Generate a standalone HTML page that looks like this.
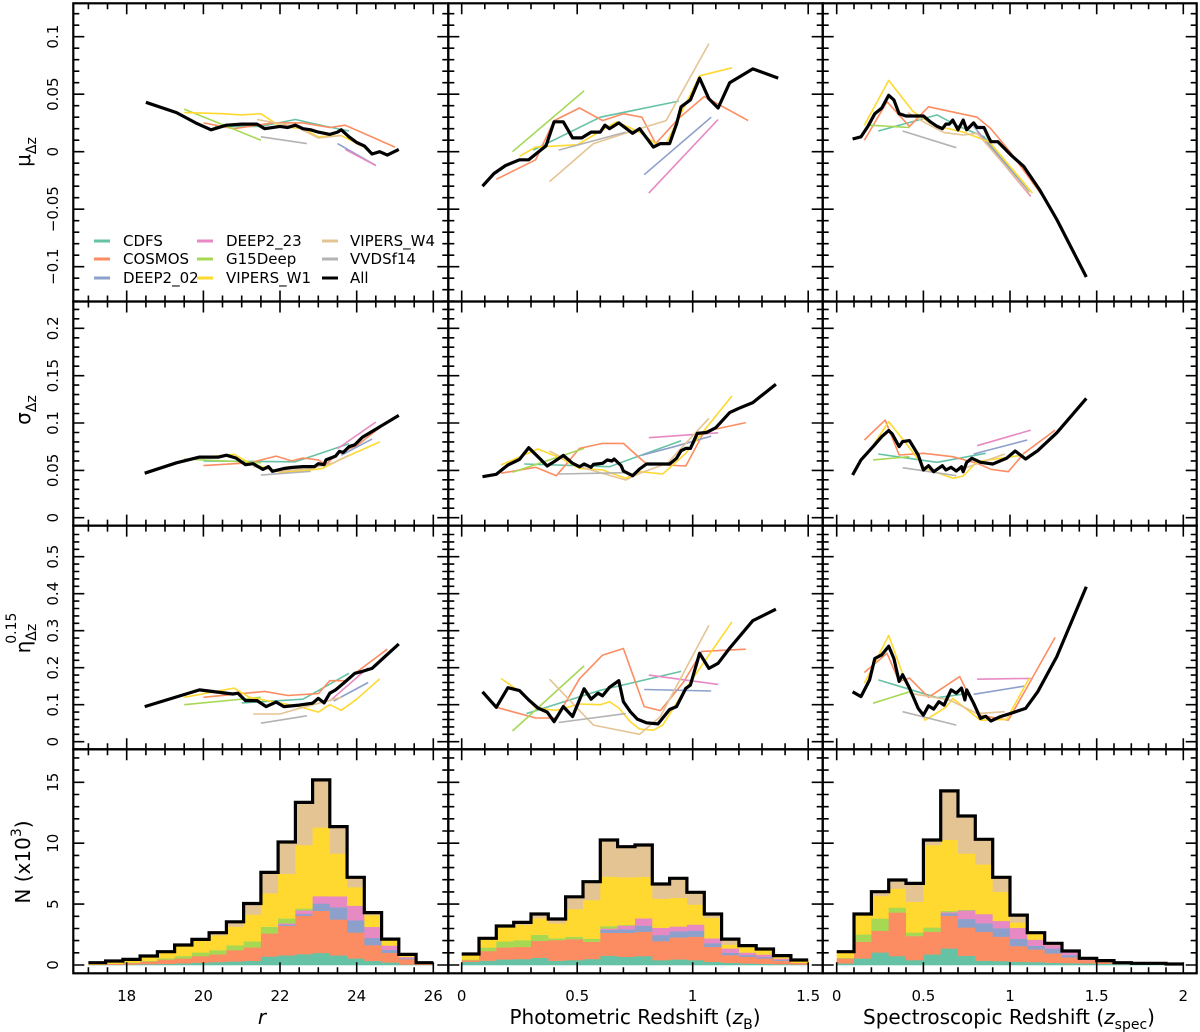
<!DOCTYPE html>
<html><head><meta charset="utf-8"><style>
html,body{margin:0;padding:0;background:#fff;}
svg{display:block;font-family:"DejaVu Sans","Liberation Sans",sans-serif;}
</style></head><body>
<svg id="chart" width="1200" height="1032" viewBox="0 0 1200 1032" xmlns="http://www.w3.org/2000/svg">
<rect x="0" y="0" width="1200" height="1032" fill="#fff"/>
<g id="marks"></g>
<g id="frames"></g>
<g font-size="15">
 <line x1="94" y1="241" x2="110" y2="241" stroke="#66c2a5" stroke-width="3"/><text x="123" y="246">CDFS</text>
 <line x1="94" y1="259" x2="110" y2="259" stroke="#fc8d62" stroke-width="3"/><text x="123" y="264">COSMOS</text>
 <line x1="94" y1="278" x2="110" y2="278" stroke="#8da0cb" stroke-width="3"/><text x="123" y="283">DEEP2_02</text>
 <line x1="197" y1="241" x2="213" y2="241" stroke="#e78ac3" stroke-width="3"/><text x="226" y="246">DEEP2_23</text>
 <line x1="197" y1="259" x2="213" y2="259" stroke="#a6d854" stroke-width="3"/><text x="226" y="264">G15Deep</text>
 <line x1="197" y1="278" x2="213" y2="278" stroke="#ffd92f" stroke-width="3"/><text x="226" y="283">VIPERS_W1</text>
 <line x1="322" y1="241" x2="338" y2="241" stroke="#e5c494" stroke-width="3"/><text x="350" y="246">VIPERS_W4</text>
 <line x1="322" y1="259" x2="338" y2="259" stroke="#b3b3b3" stroke-width="3"/><text x="350" y="264">VVDSf14</text>
 <line x1="322" y1="278" x2="338" y2="278" stroke="#000" stroke-width="3"/><text x="350" y="283">All</text>
</g>
<g font-size="20">
 <text transform="translate(30,152) rotate(-90)" text-anchor="middle">μ<tspan font-size="14" dy="6">Δz</tspan></text>
 <text transform="translate(30,410) rotate(-90)" text-anchor="middle">σ<tspan font-size="14" dy="6">Δz</tspan></text>
 <text transform="translate(30,633) rotate(-90)" text-anchor="middle">η<tspan font-size="14" dy="6">Δz</tspan><tspan font-size="14" dx="-20" dy="-20">0.15</tspan></text>
 <text transform="translate(30,862) rotate(-90)" text-anchor="middle">N (x10<tspan font-size="14" dy="-9">3</tspan><tspan dy="9">)</tspan></text>
 <text x="262" y="1024" font-style="italic" text-anchor="middle">r</text>
 <text x="635" y="1024" text-anchor="middle">Photometric Redshift (<tspan font-style="italic">z</tspan><tspan font-size="14" dy="5">B</tspan><tspan dy="-5">)</tspan></text>
 <text x="1009" y="1024" text-anchor="middle">Spectroscopic Redshift (<tspan font-style="italic">z</tspan><tspan font-size="14" dy="5">spec</tspan><tspan dy="-5">)</tspan></text>
</g>
</svg>
<script>
const fieldNames = ['CDFS','COSMOS','DEEP2_02','DEEP2_23','G15Deep','VIPERS_W1','VIPERS_W4','VVDSf14','All'];
const fieldColors = ['#66c2a5','#fc8d62','#8da0cb','#e78ac3','#a6d854','#ffd92f','#e5c494','#b3b3b3','#000000'];

// ---- row 1: mean bias ----
const muR = {
 CDFS:[[20.3,0.022],[21.5,0.022],[22.4,0.028],[23.2,0.022],[23.8,0.018]],
 COSMOS:[[20.0,0.025],[20.8,0.020],[21.8,0.025],[22.6,0.025],[23.3,0.021],[23.7,0.023],[25.0,0.004]],
 DEEP2_02:[[23.5,0.007],[24.5,-0.012]],
 DEEP2_23:[[23.7,0.002],[24.5,-0.012]],
 G15Deep:[[19.5,0.037],[21.5,0.010]],
 VIPERS_W1:[[19.5,0.034],[20.5,0.033],[21.0,0.032],[21.5,0.033],[22.0,0.022],[22.6,0.020],[23.0,0.013],[23.6,0.014],[24.3,0.002]],
 VIPERS_W4:[[21.4,0.028],[22.4,0.022],[23.0,0.012],[23.6,0.014]],
 VVDSf14:[[21.5,0.013],[22.7,0.007]],
 All:[[18.5,0.043],[19.3,0.034],[19.8,0.025],[20.2,0.019],[20.6,0.023],[21.0,0.024],[21.4,0.024],[21.6,0.020],[22.0,0.022],[22.2,0.021],[22.4,0.023],[22.6,0.020],[22.8,0.019],[23.0,0.017],[23.3,0.015],[23.5,0.017],[23.6,0.019],[23.8,0.013],[24.0,0.008],[24.2,0.005],[24.4,-0.002],[24.6,0.000],[24.8,-0.003],[25.1,0.002]]
};
const muZB = {
 CDFS:[[0.31,0.0014],[0.60,0.030],[0.94,0.044]],
 COSMOS:[[0.15,-0.024],[0.32,-0.007],[0.40,0.027],[0.51,0.038],[0.61,0.027],[0.70,0.033],[0.78,0.030],[0.84,0.007],[0.94,0.029],[1.05,0.048],[1.24,0.027]],
 DEEP2_02:[[0.79,-0.020],[1.08,0.030]],
 DEEP2_23:[[0.81,-0.036],[1.11,0.028]],
 G15Deep:[[0.22,0.0],[0.53,0.053]],
 VIPERS_W1:[[0.25,-0.004],[0.32,0.004],[0.50,0.006],[0.67,0.026],[0.77,0.017],[0.84,0.007],[0.885,0.007],[1.03,0.066],[1.17,0.073]],
 VIPERS_W4:[[0.38,-0.026],[0.57,0.007],[0.755,0.019],[0.885,0.027],[1.07,0.094]],
 VVDSf14:[[0.42,0.0014],[0.71,0.017]],
 All:[[0.09,-0.030],[0.14,-0.019],[0.19,-0.012],[0.25,-0.007],[0.29,-0.007],[0.365,0.005],[0.40,0.026],[0.44,0.026],[0.48,0.012],[0.52,0.012],[0.56,0.017],[0.60,0.017],[0.62,0.023],[0.64,0.020],[0.68,0.025],[0.74,0.016],[0.77,0.020],[0.83,0.004],[0.86,0.007],[0.90,0.007],[0.93,0.024],[0.95,0.039],[0.99,0.045],[1.03,0.064],[1.07,0.046],[1.11,0.038],[1.16,0.060],[1.26,0.072],[1.37,0.064]]
};
const muZS = {
 CDFS:[[0.24,0.018],[0.58,0.032],[0.69,0.023],[0.85,0.013],[1.11,-0.035]],
 COSMOS:[[0.16,0.010],[0.29,0.0435],[0.42,0.022],[0.53,0.039],[0.81,0.030],[0.89,0.020],[1.00,0.0],[1.19,-0.039],[1.27,-0.059]],
 DEEP2_02:[[0.79,0.022],[1.11,-0.035]],
 DEEP2_23:[[0.81,0.017],[1.12,-0.039]],
 G15Deep:[[0.19,0.023],[0.42,0.021]],
 VIPERS_W1:[[0.16,0.023],[0.30,0.062],[0.44,0.035],[0.56,0.023],[0.73,0.017],[0.88,0.0087],[1.13,-0.036]],
 VIPERS_W4:[[0.41,0.034],[0.50,0.026],[0.62,0.0166],[0.73,0.0145],[0.81,0.016],[1.11,-0.036]],
 VVDSf14:[[0.38,0.018],[0.69,0.0035]],
 All:[[0.092,0.011],[0.14,0.013],[0.18,0.022],[0.22,0.033],[0.26,0.038],[0.30,0.049],[0.33,0.045],[0.36,0.033],[0.40,0.031],[0.50,0.031],[0.54,0.026],[0.58,0.022],[0.61,0.020],[0.63,0.024],[0.65,0.024],[0.67,0.0275],[0.70,0.019],[0.73,0.0275],[0.75,0.019],[0.79,0.025],[0.81,0.021],[0.85,0.021],[0.875,0.013],[0.89,0.0087],[0.93,0.0087],[1.01,-0.0035],[1.08,-0.013],[1.17,-0.033],[1.27,-0.059],[1.44,-0.109]]
};
// ---- row 2: scatter ----
const sigR = {
 CDFS:[[20.0,0.060],[22.4,0.059],[23.8,0.078]],
 COSMOS:[[20.0,0.055],[21.2,0.058],[21.9,0.065],[22.3,0.060],[22.6,0.063],[23.0,0.061],[23.2,0.056],[23.5,0.068],[24.0,0.076],[24.6,0.095]],
 DEEP2_02:[[23.6,0.066],[24.4,0.083]],
 DEEP2_23:[[23.5,0.073],[24.5,0.101]],
 G15Deep:[[19.5,0.062],[21.5,0.058]],
 VIPERS_W1:[[19.8,0.063],[20.8,0.067],[21.2,0.058],[22.0,0.048],[22.7,0.050],[23.1,0.052],[23.6,0.062],[24.6,0.080]],
 VIPERS_W4:[[21.3,0.054],[22.0,0.049],[22.8,0.052],[23.4,0.058],[23.8,0.066]],
 VVDSf14:[[21.5,0.045],[22.8,0.049]],
 All:[[18.47,0.047],[19.3,0.058],[19.9,0.064],[20.4,0.064],[20.6,0.066],[20.85,0.063],[21.1,0.056],[21.3,0.057],[21.55,0.051],[21.7,0.054],[21.8,0.049],[22.1,0.052],[22.3,0.053],[22.6,0.054],[22.9,0.054],[23.0,0.057],[23.15,0.056],[23.2,0.061],[23.45,0.065],[23.55,0.070],[23.65,0.069],[23.8,0.075],[23.95,0.077],[24.15,0.085],[25.1,0.108]]
};
const sigZB = {
 CDFS:[[0.27,0.0567],[0.64,0.0539],[0.95,0.0813]],
 COSMOS:[[0.17,0.047],[0.32,0.0532],[0.41,0.0444],[0.51,0.0732],[0.61,0.0785],[0.70,0.0785],[0.80,0.0567],[0.97,0.0546],[1.05,0.091],[1.23,0.1004]],
 DEEP2_02:[[0.78,0.066],[0.92,0.075],[1.08,0.0862]],
 DEEP2_23:[[0.81,0.0845],[1.11,0.0897]],
 G15Deep:[[0.22,0.0479],[0.53,0.0732]],
 VIPERS_W1:[[0.17,0.0556],[0.33,0.0725],[0.43,0.0627],[0.51,0.0521],[0.61,0.0504],[0.71,0.0416],[0.77,0.0486],[0.87,0.0461],[0.97,0.068],[1.17,0.1286]],
 VIPERS_W4:[[0.38,0.0704],[0.51,0.0539],[0.71,0.0398],[0.77,0.0468],[0.89,0.0574],[1.07,0.105]],
 VVDSf14:[[0.42,0.0461],[0.71,0.0475]],
 All:[[0.09,0.0433],[0.15,0.0458],[0.20,0.0556],[0.25,0.0616],[0.29,0.0739],[0.33,0.0644],[0.37,0.0546],[0.40,0.0591],[0.44,0.0658],[0.48,0.0574],[0.51,0.0539],[0.53,0.0567],[0.56,0.0532],[0.57,0.0563],[0.61,0.0574],[0.63,0.0609],[0.65,0.0599],[0.66,0.062],[0.69,0.055],[0.70,0.0493],[0.74,0.0444],[0.77,0.0514],[0.80,0.0567],[0.90,0.0567],[0.93,0.0627],[0.95,0.0707],[0.97,0.0732],[0.99,0.0732],[1.02,0.089],[1.06,0.090],[1.10,0.095],[1.16,0.111],[1.20,0.1155],[1.26,0.1215],[1.36,0.141]]
};
const sigZS = {
 CDFS:[[0.24,0.0673],[0.58,0.0585],[0.86,0.068]],
 COSMOS:[[0.16,0.082],[0.28,0.1031],[0.36,0.0662],[0.50,0.068],[0.67,0.0644],[0.81,0.0574],[0.89,0.0511],[0.99,0.0486],[1.08,0.068],[1.26,0.0925]],
 DEEP2_02:[[0.79,0.0673],[1.10,0.0821]],
 DEEP2_23:[[0.81,0.0760],[1.12,0.0925]],
 G15Deep:[[0.21,0.061],[0.42,0.0644]],
 VIPERS_W1:[[0.18,0.068],[0.30,0.1014],[0.40,0.0785],[0.51,0.0521],[0.67,0.0416],[0.73,0.044],[0.81,0.0592],[1.08,0.0662]],
 VIPERS_W4:[[0.68,0.0486],[0.97,0.0673]],
 VVDSf14:[[0.38,0.0528],[0.69,0.0444]],
 All:[[0.092,0.0451],[0.14,0.061],[0.21,0.0751],[0.26,0.0856],[0.30,0.092],[0.32,0.0885],[0.36,0.0751],[0.38,0.0804],[0.42,0.0814],[0.47,0.0662],[0.50,0.0504],[0.53,0.0549],[0.56,0.0486],[0.61,0.0549],[0.63,0.0504],[0.66,0.0532],[0.69,0.0493],[0.72,0.0539],[0.73,0.0486],[0.75,0.0585],[0.78,0.0627],[0.83,0.0585],[0.90,0.0567],[0.98,0.0627],[1.03,0.0704],[1.09,0.062],[1.16,0.0707],[1.27,0.0897],[1.44,0.126]]
};
// ---- row 3: outlier fraction ----
const etaR = {
 CDFS:[[21.0,0.105],[22.6,0.115],[23.8,0.185]],
 COSMOS:[[20.0,0.120],[21.6,0.136],[22.2,0.125],[23.0,0.130],[23.3,0.165],[23.7,0.165],[24.8,0.250]],
 DEEP2_02:[[23.4,0.110],[24.3,0.160]],
 DEEP2_23:[[23.3,0.110],[24.3,0.200]],
 G15Deep:[[19.5,0.100],[21.5,0.120]],
 VIPERS_W1:[[19.5,0.120],[20.8,0.145],[21.2,0.120],[22.5,0.095],[23.0,0.080],[23.3,0.100],[23.6,0.085],[24.0,0.115],[24.6,0.170]],
 VIPERS_W4:[[21.3,0.075],[22.0,0.075],[22.5,0.090],[23.6,0.120]],
 VVDSf14:[[21.5,0.050],[22.7,0.070]],
 All:[[18.47,0.095],[19.9,0.140],[20.77,0.129],[20.9,0.131],[21.1,0.111],[21.4,0.111],[21.64,0.095],[21.9,0.107],[22.1,0.095],[22.5,0.099],[22.85,0.104],[23.0,0.117],[23.15,0.105],[23.3,0.131],[23.45,0.140],[23.7,0.162],[23.95,0.185],[24.15,0.190],[24.4,0.198],[25.1,0.264]]
};
const etaZB = {
 CDFS:[[0.28,0.076],[0.60,0.139],[0.95,0.190]],
 COSMOS:[[0.15,0.093],[0.32,0.064],[0.41,0.064],[0.51,0.170],[0.61,0.234],[0.70,0.252],[0.79,0.095],[0.86,0.084],[0.96,0.161],[1.04,0.244],[1.23,0.250]],
 DEEP2_02:[[0.79,0.141],[1.08,0.137]],
 DEEP2_23:[[0.81,0.180],[1.11,0.155]],
 G15Deep:[[0.22,0.029],[0.53,0.205]],
 VIPERS_W1:[[0.17,0.171],[0.27,0.127],[0.32,0.091],[0.41,0.085],[0.51,0.102],[0.60,0.100],[0.64,0.108],[0.68,0.091],[0.73,0.054],[0.77,0.034],[0.83,0.031],[0.87,0.045],[0.97,0.144],[1.17,0.324]],
 VIPERS_W4:[[0.38,0.169],[0.57,0.045],[0.77,0.020],[0.86,0.068],[1.07,0.315]],
 VVDSf14:[[0.42,0.052],[0.71,0.076]],
 All:[[0.09,0.135],[0.15,0.093],[0.20,0.146],[0.25,0.138],[0.29,0.113],[0.33,0.091],[0.37,0.080],[0.40,0.054],[0.44,0.095],[0.48,0.068],[0.53,0.143],[0.56,0.115],[0.59,0.131],[0.61,0.124],[0.64,0.147],[0.68,0.165],[0.70,0.108],[0.73,0.081],[0.76,0.061],[0.80,0.051],[0.85,0.048],[0.90,0.087],[0.93,0.095],[0.97,0.144],[0.99,0.153],[1.03,0.239],[1.07,0.198],[1.11,0.212],[1.16,0.253],[1.26,0.327],[1.36,0.358]]
};
const etaZS = {
 CDFS:[[0.24,0.167],[0.58,0.119],[0.77,0.131]],
 COSMOS:[[0.16,0.187],[0.29,0.239],[0.36,0.163],[0.42,0.172],[0.53,0.120],[0.71,0.176],[0.82,0.072],[0.99,0.058],[1.10,0.148],[1.26,0.282]],
 DEEP2_02:[[0.79,0.128],[1.08,0.150]],
 DEEP2_23:[[0.81,0.169],[1.12,0.171]],
 G15Deep:[[0.21,0.104],[0.42,0.135]],
 VIPERS_W1:[[0.16,0.158],[0.30,0.287],[0.40,0.158],[0.51,0.058],[0.63,0.093],[0.67,0.117],[0.83,0.058],[0.98,0.060],[1.11,0.171]],
 VIPERS_W4:[[0.42,0.131],[0.65,0.113],[0.81,0.076],[0.97,0.081]],
 VVDSf14:[[0.38,0.081],[0.69,0.045]],
 All:[[0.092,0.135],[0.14,0.122],[0.19,0.167],[0.22,0.225],[0.26,0.235],[0.30,0.258],[0.33,0.225],[0.36,0.163],[0.38,0.181],[0.42,0.145],[0.47,0.090],[0.50,0.072],[0.53,0.097],[0.56,0.088],[0.59,0.108],[0.62,0.099],[0.63,0.110],[0.66,0.140],[0.69,0.131],[0.72,0.145],[0.74,0.113],[0.75,0.140],[0.79,0.104],[0.83,0.063],[0.86,0.069],[0.89,0.056],[0.94,0.067],[1.00,0.076],[1.09,0.090],[1.16,0.135],[1.27,0.230],[1.44,0.419]]
};
// ---- row 4: stacked histograms (N in thousands), order bottom->top ----
const histStackOrder = ['CDFS','COSMOS','DEEP2_02','DEEP2_23','G15Deep','VIPERS_W1','VIPERS_W4'];
const histRStart = 17, histRWidth = 0.45;
const histR = {
 CDFS:[0.02,0.03,0.05,0.08,0.1,0.15,0.2,0.25,0.3,0.35,0.7,0.8,0.9,1.0,0.8,0.55,0.35,0.22,0.05,0.02],
 COSMOS:[0.03,0.08,0.14,0.22,0.36,0.4,0.54,0.63,0.93,1.1,1.9,2.43,3.15,3.46,2.95,2.13,1.29,0.79,0.44,0.12],
 DEEP2_02:[0,0,0,0,0,0,0,0,0,0,0,0.1,0.15,0.6,1.0,1.0,0.6,0.25,0.08,0],
 DEEP2_23:[0,0,0,0,0,0,0,0,0,0,0,0.1,0.3,0.6,0.9,1.2,0.9,0.35,0.1,0],
 G15Deep:[0,0,0.02,0.05,0.1,0.2,0.3,0.35,0.4,0.5,0.55,0.4,0.15,0,0,0,0,0,0,0],
 VIPERS_W1:[0.14,0.22,0.25,0.39,0.53,0.89,1.01,1.22,1.52,2.2,2.75,3.67,5.2,5.64,3.51,1.52,0.96,0.47,0.2,0.05],
 VIPERS_W4:[0,0,0,0,0,0,0.05,0.2,0.4,0.9,1.7,2.6,3.5,3.9,2.2,0.8,0.2,0.05,0,0]
};
const histZBStart = 0, histZBWidth = 0.075;
const histZB = {
 CDFS:[0.27,0.36,0.47,0.5,0.6,0.36,0.41,0.5,0.77,0.68,0.74,0.41,0.47,0.41,0.27,0.19,0.14,0.11,0.08,0.05],
 COSMOS:[0.14,0.79,0.98,1.0,1.39,1.69,1.72,1.42,1.88,1.97,2.0,1.56,1.8,1.92,1.23,0.63,0.54,0.44,0.28,0.14],
 DEEP2_02:[0,0,0,0,0,0,0,0,0.25,0.3,0.5,0.5,0.5,0.5,0.3,0.2,0.15,0.12,0.08,0],
 DEEP2_23:[0,0,0,0,0,0,0,0,0.1,0.3,0.6,0.6,0.4,0.5,0.4,0.35,0.2,0.2,0.1,0],
 G15Deep:[0.05,0.3,0.5,0.55,0.5,0.15,0.2,0.25,0.2,0.05,0,0,0,0,0,0,0,0,0,0],
 VIPERS_W1:[0.44,0.74,1.15,1.25,1.35,1.23,2.27,3.17,4.06,3.91,3.41,2.38,2.35,1.64,1.69,0.31,0.46,0.39,0.23,0.22],
 VIPERS_W4:[0,0,0.1,0.2,0.35,0.35,1.0,1.5,3.0,2.5,2.6,1.2,1.6,1.0,0.3,0.45,0.1,0.05,0,0]
};
const histZSStart = 0, histZSWidth = 0.1;
const histZS = {
 CDFS:[0.14,0.55,1.04,0.74,0.41,0.88,1.37,0.77,0.36,0.33,0.27,0.25,0.19,0.16,0.14,0.11,0.08,0.08,0.08,0.05],
 COSMOS:[0.41,1.37,1.78,3.58,1.97,1.86,2.68,2.32,2.38,2.0,1.29,1.04,0.77,0.47,0.27,0.16,0.11,0.06,0.06,0.03],
 DEEP2_02:[0,0,0,0,0,0,0.2,0.7,0.7,0.7,0.6,0.3,0.4,0.2,0,0,0,0,0,0],
 DEEP2_23:[0,0,0,0,0,0,0.1,0.7,0.75,0.6,0.9,0.5,0.3,0.3,0.1,0,0,0,0,0],
 G15Deep:[0.05,0.6,1.0,0.4,0.3,0.35,0.1,0.05,0,0,0,0,0,0,0,0,0,0,0,0],
 VIPERS_W1:[0.49,1.67,1.85,1.56,2.52,6.77,5.84,4.62,4.08,2.39,0.44,0.51,0.12,0.02,0.04,0.09,0,0,0,0],
 VIPERS_W4:[0,0,0.35,0.7,1.5,0.4,4.0,3.07,2.05,1.18,0.6,0.05,0,0,0,0,0,0,0,0]
};

// ---- axis tick labels ----
const xTickLabels = [['18','20','22','24','26'],['0','0.5','1','1.5'],['0','0.5','1','1.5','2']];
const yTickLabels = [['−0.1','−0.05','0','0.05','0.1'],['0','0.05','0.1','0.15','0.2'],['0','0.1','0.2','0.3','0.4','0.5'],['0','5','10','15']];

// ---- geometry (layout, not data) ----
const colPix = [[73.3,448.3],[448.3,822.7],[822.7,1196.7]];
const rowPix = [[3.3,301.5],[301.5,525.6],[525.6,749.3],[749.3,973.3]];
const xAnchor = [[18,126.7,38.33],[0,461.7,231],[0,836.7,173.3]];   // value, pixel, px per unit
const yAnchor = [[0,151.7,1150],[0,517.7,947],[0,741.7,370],[0,965,12.18]];
const xMinor = [[17,26,0.5],[0,1.5,0.1],[0,2,0.1]];
const xMajor = [[18,26,2],[0,1.5,0.5],[0,2,0.5]];
const yMinor = [[-0.13,0.12,0.01],[0,0.22,0.01],[0,0.56,0.02],[0,17,1]];
const yMajor = [[-0.1,0.1,0.05],[0,0.2,0.05],[0,0.5,0.1],[0,15,5]];

function X(c,v){const a=xAnchor[c];return a[1]+(v-a[0])*a[2];}
function Y(r,v){const a=yAnchor[r];return a[1]-(v-a[0])*a[2];}
const NS='http://www.w3.org/2000/svg';
const marks=document.getElementById('marks');
const frames=document.getElementById('frames');
function mk(tag,attrs,parent){const e=document.createElementNS(NS,tag);for(const k in attrs)e.setAttribute(k,attrs[k]);parent.appendChild(e);return e;}
function slug(s){return s.toLowerCase().replace(/_/g,'-');}

const linePanels=[[muR,muZB,muZS],[sigR,sigZB,sigZS],[etaR,etaZB,etaZS]];
const rowKeys=['mu','sigma','eta'];
const colKeys=['r','zb','zspec'];
for(let r=0;r<3;r++){for(let c=0;c<3;c++){
 const data=linePanels[r][c];
 const g=mk('g',{},marks);
 
 
 fieldNames.forEach((f,i)=>{
  const pts=data[f]; if(!pts) return;
  const d=pts.map((p,j)=>(j?'L':'M')+X(c,p[0]).toFixed(1)+','+Y(r,p[1]).toFixed(1)).join(' ');
  const p=mk('path',{d:d,fill:'none',stroke:fieldColors[i],'stroke-width':f==='All'?3.2:1.6,'stroke-linejoin':'round'},g);
  
  
  if(f==='All') g.appendChild(p);
 });
}}

const hists=[[histR,histRStart,histRWidth],[histZB,histZBStart,histZBWidth],[histZS,histZSStart,histZSWidth]];
hists.forEach((h,c)=>{
 const data=h[0],start=h[1],w=h[2];
 const g=mk('g',{},marks);
 
 
 const n=data.CDFS.length;
 const totals=[];
 for(let b=0;b<n;b++){
  let cum=0;
  histStackOrder.forEach(f=>{
   const v=data[f][b]; if(v<=0) return;
   const x0=X(c,start+b*w),x1=X(c,start+(b+1)*w);
   const y0=Y(3,cum),y1=Y(3,cum+v);
   const rc=mk('rect',{x:x0.toFixed(2),y:y1.toFixed(2),width:(x1-x0+0.4).toFixed(2),height:(y0-y1+0.3).toFixed(2),fill:fieldColors[fieldNames.indexOf(f)]},g);
   
   
   cum+=v;
  });
  totals.push(cum);
 }
 let d='';
 for(let b=0;b<n;b++){
  const x0=X(c,start+b*w),x1=X(c,start+(b+1)*w),y=Y(3,totals[b]);
  d+=(b?'L':'M')+x0.toFixed(1)+','+y.toFixed(1)+' L'+x1.toFixed(1)+','+y.toFixed(1)+' ';
 }
 const o=mk('path',{d:d,fill:'none',stroke:'#000','stroke-width':3.2},g);
 
 
});

// frames, ticks, labels
function range(a,b,s){const o=[];for(let v=a;v<=b+s*1e-6;v+=s)o.push(Math.round(v/s)*s);return o;}
for(let r=0;r<4;r++){for(let c=0;c<3;c++){
 const [x0,x1]=colPix[c],[y0,y1]=rowPix[r];
 const g=mk('g',{stroke:'#000'},frames);
 
 
 mk('rect',{x:x0,y:y0,width:x1-x0,height:y1-y0,fill:'none','stroke-width':2.2},g);
 let d='';
 const xm=[[xMinor[c],6],[xMajor[c],11]];
 xm.forEach(([t,len])=>{range(t[0],t[1],t[2]).forEach(v=>{const x=X(c,v).toFixed(1);d+='M'+x+','+y0+'v'+len+'M'+x+','+y1+'v'+(-len);});});
 const ym=[[yMinor[r],6],[yMajor[r],11]];
 ym.forEach(([t,len])=>{range(t[0],t[1],t[2]).forEach(v=>{const y=Y(r,v);if(y<y0||y>y1)return;const yy=y.toFixed(1);d+='M'+x0+','+yy+'h'+len+'M'+x1+','+yy+'h'+(-len);});});
 mk('path',{d:d,'stroke-width':1.6,fill:'none'},g);
}}
// y tick labels (left column)
for(let r=0;r<4;r++){
 const vals=range(yMajor[r][0],yMajor[r][1],yMajor[r][2]);
 vals.forEach((v,i)=>{
  const y=Y(r,v);
  const t=mk('text',{transform:'translate(53,'+y.toFixed(1)+') rotate(-90)','text-anchor':'middle','dominant-baseline':'central','font-size':15},frames);
  t.textContent=yTickLabels[r][i];
  
  
 });
}
// x tick labels (bottom row)
for(let c=0;c<3;c++){
 const vals=range(xMajor[c][0],xMajor[c][1],xMajor[c][2]);
 vals.forEach((v,i)=>{
  const t=mk('text',{x:X(c,v).toFixed(1),y:1001,'text-anchor':'middle','font-size':15},frames);
  t.textContent=xTickLabels[c][i];
  
  
 });
}
</script>
</body></html>
